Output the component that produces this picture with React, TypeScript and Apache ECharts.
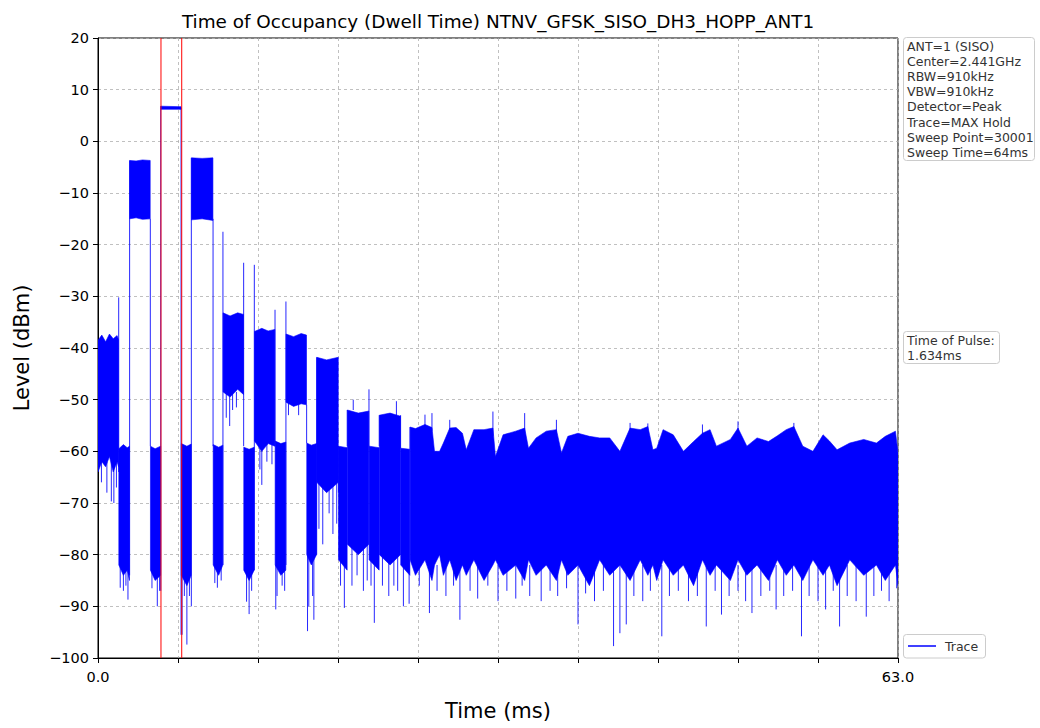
import React, { useEffect, useRef } from 'react';
import * as echarts from 'echarts';

const chartTitle = 'Time of Occupancy (Dwell Time) NTNV_GFSK_SISO_DH3_HOPP_ANT1';
const xAxisName = 'Time (ms)';
const yAxisName = 'Level (dBm)';
const xTickLabels = ['0.0', '63.0'];
const infoLines = ['ANT=1 (SISO)', 'Center=2.441GHz', 'RBW=910kHz', 'VBW=910kHz', 'Detector=Peak', 'Trace=MAX Hold', 'Sweep Point=30001', 'Sweep Time=64ms'];
const pulseLines = ['Time of Pulse:', '1.634ms'];
const legendName = 'Trace';
const markerTimes = [4.96, 6.594];

// Trace envelope: time (ms), upper level, lower level (dBm)
const envT = [
  0, 0.3, 0.6, 0.9, 1.2, 1.5, 1.62,
  1.64, 2.0, 2.3, 2.48,
  2.5, 3.0, 3.5, 4.11,
  4.13, 4.5, 4.93,
  4.95, 6.54,
  6.56, 7.0, 7.34,
  7.36, 8.2, 9.05,
  9.07, 9.5, 9.83,
  9.85, 10.4, 11.0, 11.46,
  11.48, 11.9, 12.3,
  12.32, 12.9, 13.4, 13.93,
  13.95, 14.4, 14.79,
  14.81, 15.4, 16.0, 16.42,
  16.44, 16.8, 17.21,
  17.23, 18.0, 18.92,
  18.94, 19.62,
  19.64, 20.5, 21.33,
  21.35, 22.14,
  22.16, 23.0, 23.82,
  23.84, 24.56,
  24.58, 25.0, 25.75, 26.3, 26.5, 26.9, 27.2, 27.7, 28.2, 28.7, 29.0, 29.6, 30.4, 31.1, 31.3, 31.9,
  32.9, 33.6, 33.9, 34.5, 35.3, 36.1, 36.5, 37.0, 37.8, 38.7, 39.5, 40.3, 41.1, 41.9, 42.7, 43.3,
  43.7, 44.0, 44.5, 45.3, 46.1, 46.9, 47.6, 48.2, 48.7, 49.8, 50.4, 51.1, 51.9, 52.8, 53.5, 54.2,
  54.8, 55.5, 56.3, 57.1, 57.6, 58.2, 59.2, 60.3, 61.3, 62.0, 62.8, 63.0,
];
const envHi = [
  -38.5, -37.5, -38.8, -37.3, -38.2, -37.6, -38.4,
  -59.5, -58.7, -59.3, -59,
  -3.7, -3.8, -3.6, -3.7,
  -59, -59.5, -59,
  6.8, 6.7,
  -58.5, -59, -58.6,
  -3.2, -3.3, -3.2,
  -58.7, -59.2, -58.8,
  -33.2, -33.8, -33.2, -33.5,
  -59.2, -59.6, -59.2,
  -36.8, -36.2, -36.7, -36.4,
  -58, -58.5, -58.2,
  -37.3, -37.8, -37.2, -37.5,
  -58.4, -58.8, -58.5,
  -41.8, -42.3, -41.8,
  -59, -59.3,
  -52, -52.6, -52.2,
  -59, -59.3,
  -53, -52.6, -53.2,
  -59.4, -59.6,
  -55.3, -55.6, -54.8, -55.4, -60, -60, -58.4, -55.5, -55.4, -56.5, -59.7, -55.8, -55.8, -55.5, -61, -56.8,
  -56.1, -55.5, -59.4, -57.4, -56.1, -55.8, -60.3, -57.1, -56.5, -57.1, -57.4, -57.4, -60, -55.5, -55.8, -55.2,
  -59.7, -59.4, -55.8, -56.8, -60, -58.1, -56.5, -55.8, -59, -57.7, -55.5, -59, -57.4, -58.1, -57, -55.8,
  -55.2, -59, -60, -56.8, -58, -59.7, -58.4, -57.7, -58.4, -57.1, -56.1, -60.3,
];
const envLo = [
  -64, -62, -63, -61, -64, -62, -63,
  -82, -84, -83, -85,
  -15, -14.8, -15.1, -15,
  -83, -85, -84,
  6.2, 6.2,
  -84, -86, -84,
  -15.2, -15, -15.3,
  -82, -84, -82,
  -48.5, -49.5, -48, -49,
  -83, -85, -83,
  -58, -60, -58.5, -59,
  -82, -84, -83,
  -50.5, -51.3, -50.8, -51,
  -80, -82, -80,
  -66, -68, -66,
  -81, -83,
  -78, -80, -78,
  -81, -83,
  -80, -82, -80,
  -82, -84,
  -81, -84, -81, -85, -82, -80, -84, -81, -85, -82, -84, -81, -85, -82, -81, -84,
  -82, -85, -81, -84, -82, -85, -81, -84, -82, -86, -81, -84, -82, -85, -81, -84,
  -82, -85, -81, -84, -82, -86, -81, -84, -82, -85, -81, -84, -82, -85, -81, -84,
  -82, -85, -81, -84, -82, -86, -81, -84, -82, -85, -82, -86,
];

// Thin vertical strokes of the trace (spikes and jumps): time, from level, to level
const strokeT = [
  1.63, 2.49, 4.12, 4.94, 6.54, 7.35, 9.06, 9.84, 11.47, 12.31, 13.94, 14.8, 16.43, 17.22, 18.93, 19.63, 21.34, 22.15, 23.83, 24.57,
  0.27, 0.7, 1.05, 1.25, 1.45, 1.75, 2.0, 2.2, 2.36, 4.25, 4.67, 4.85, 6.62, 6.8, 7.0, 7.2,
  9.2, 9.4, 9.7, 10.1, 10.37, 10.6, 10.9, 11.7, 11.9, 12.1, 12.75, 12.9, 13.3, 13.7,
  14.0, 14.1, 14.5, 14.7, 15.0, 15.8, 16.5, 16.6, 16.9, 17.0, 17.4, 17.7, 18.2, 18.5, 18.8,
  19.1, 19.4, 20.0, 20.1, 20.4, 20.9, 21.2, 21.5, 21.76, 22.4, 22.9, 23.3, 23.5, 23.6, 24.05, 24.5,
  25.3, 26.1, 26.7, 27.4, 28.0, 28.5, 29.3, 29.9, 30.7, 31.5, 32.2, 32.9, 33.4, 34.0, 34.9, 35.6,
  36.2, 36.9, 37.8, 38.4, 39.1, 39.8, 40.6, 41.1, 41.6, 42.2, 42.9, 43.5, 44.4, 45.0, 45.7, 46.5,
  47.2, 47.9, 48.6, 49.1, 49.7, 50.4, 51.0, 51.5, 52.2, 52.9, 53.4, 54.0, 54.7, 55.4, 56.0, 56.7,
  57.3, 57.9, 58.4, 59.0, 59.7, 60.5, 61.1, 61.7, 62.3, 62.9,
  25.75, 26.3, 27.7, 31.1, 33.6, 36.1, 41.9, 43.3, 47.6, 50.4, 54.8,
];
const strokeFrom = [
  -64, -84, -15, -87, 6.5, -90, -15, -82, -59, -83, -59, -82, -51, -80, -68, -59, -59, -59, -53, -59.6,
  -62, -62, -62, -62, -62, -82, -82, -82, -82, -83, -83, -83, -84, -84, -84, -84,
  -82, -82, -82, -48.5, -48.5, -48.5, -48.5, -83, -83, -83, -58, -58, -58, -58,
  -82, -82, -82, -82, -50.5, -50.5, -80, -80, -80, -80, -66, -66, -66, -66, -66,
  -80, -80, -78, -52, -78, -78, -78, -80, -80, -80, -80, -80, -53, -80, -81, -81,
  -81, -82, -82, -82, -82, -82, -82, -82, -82, -82, -82, -82, -82, -82, -82, -82,
  -82, -82, -82, -82, -82, -82, -82, -82, -82, -82, -82, -82, -82, -82, -82, -82,
  -82, -82, -82, -82, -82, -82, -82, -82, -82, -82, -82, -82, -82, -82, -82, -82,
  -82, -82, -82, -82, -82, -82, -82, -82, -82, -82,
  -56, -56, -57, -57, -57, -57, -57, -57, -57, -57, -57,
];
const strokeTo = [
  -30.2, -3.7, -59, 6.8, -95.5, -3.2, -59, -17.5, -23.5, -23.9, -32.6, -31, -58.4, -41.8, -59, -52, -48, -53, -59.4, -55.3,
  -66, -68, -69.7, -70, -67, -86.4, -87, -86, -88.7, -86.5, -90, -87, -95.5, -88, -97.4, -88,
  -85.5, -86.4, -85, -53.5, -55.1, -52, -51.5, -89.1, -91.5, -87, -63.5, -66.5, -62, -62.5,
  -90.6, -88, -86, -87, -53, -53, -94.8, -90, -88, -92.6, -75, -78, -72, -76, -74,
  -86, -90.3, -86, -50, -84, -87, -85, -86, -93.2, -86, -88, -86, -50.3, -87, -90, -89.5,
  -86, -91.3, -87, -88, -86, -92.6, -87, -88.5, -86, -89, -87, -88.5, -86, -88, -89, -87,
  -88, -86.5, -93.5, -87.5, -89, -87, -97.7, -95.2, -93.5, -88, -89, -87, -95.8, -88, -87, -89,
  -88, -93.9, -87, -91.6, -88, -87, -89, -91.3, -88, -87, -90.6, -88, -87, -95.8, -88, -89,
  -90.6, -87, -93.9, -88, -89, -92, -88, -87, -89, -86.5,
  -52.9, -52.6, -53.9, -52.3, -52.6, -53.9, -54.5, -54.6, -54.8, -54.2, -54.5,
];

const FONT = '"DejaVu Sans", sans-serif';
const BLUE = '#0000ff';

export default function App() {
  const ref = useRef<HTMLDivElement>(null);
  useEffect(() => {
    if (!ref.current) return;
    const chart = echarts.init(ref.current, undefined, { renderer: 'svg' });
    const envData = envT.map((t, i) => [t, envHi[i], envLo[i]]);
    const strokeData = strokeT.map((t, i) => [t, strokeFrom[i], strokeTo[i]]);
    const markerData = markerTimes.map((t) => [t, 20, -100]);
    const isBreak = (k: number) => envT[k + 1] - envT[k] < 0.05;
    chart.setOption({
      animation: false,
      backgroundColor: '#ffffff',
      grid: { left: 98, top: 38, width: 800, height: 620, show: true, borderColor: '#000', borderWidth: 1, backgroundColor: 'transparent' },
      xAxis: {
        type: 'value', min: 0, max: 63, interval: 6.3,
        name: xAxisName, nameLocation: 'middle', nameGap: 42,
        nameTextStyle: { fontFamily: FONT, fontSize: 21, color: '#000' },
        axisLine: { show: true, onZero: false, lineStyle: { color: '#000', width: 1 } },
        axisTick: { show: true, length: 5, inside: false, lineStyle: { color: '#000', width: 1 } },
        axisLabel: {
          fontFamily: FONT, fontSize: 14.5, color: '#000', margin: 11,
          showMinLabel: true, showMaxLabel: true, hideOverlap: false,
          formatter: (v: number) => (Math.abs(v) < 1e-6 ? xTickLabels[0] : Math.abs(v - 63) < 1e-6 ? xTickLabels[1] : ''),
        },
        splitLine: { show: true, lineStyle: { color: '#b0b0b0', type: [3, 3], width: 0.8 } },
      },
      yAxis: {
        type: 'value', min: -100, max: 20, interval: 10,
        name: yAxisName, nameLocation: 'middle', nameGap: 66, nameRotate: 90,
        nameTextStyle: { fontFamily: FONT, fontSize: 21, color: '#000' },
        axisLine: { show: true, onZero: false, lineStyle: { color: '#000', width: 1 } },
        axisTick: { show: true, length: 5, inside: false, lineStyle: { color: '#000', width: 1 } },
        axisLabel: {
          fontFamily: FONT, fontSize: 14.5, color: '#000', margin: 9,
          formatter: (v: number) => String(v).replace('-', '\u2212'),
        },
        splitLine: { show: true, lineStyle: { color: '#b0b0b0', type: [3, 3], width: 0.8 } },
      },
      series: [
        {
          name: legendName,
          type: 'custom',
          clip: true,
          progressive: 0,
          itemStyle: { color: BLUE },
          encode: { x: 0, y: [1, 2] },
          data: envData,
          renderItem: (params: any, api: any) => {
            const i = params.dataIndex;
            if (i > 0 && !isBreak(i - 1)) return null;
            let j = i;
            while (j + 1 < envT.length && !isBreak(j)) j++;
            if (j === i) return null;
            const top: number[][] = [];
            const bot: number[][] = [];
            for (let k = i; k <= j; k++) {
              top.push(api.coord([envT[k], envHi[k]]));
              bot.unshift(api.coord([envT[k], envLo[k]]));
            }
            return {
              type: 'polygon',
              shape: { points: top.concat(bot) },
              style: { fill: BLUE, stroke: BLUE, lineWidth: 0.6 },
            };
          },
        },
        {
          name: legendName,
          type: 'custom',
          clip: true,
          progressive: 0,
          encode: { x: 0, y: [1, 2] },
          data: strokeData,
          renderItem: (params: any, api: any) => {
            const p0 = api.coord([api.value(0), api.value(1)]);
            const p1 = api.coord([api.value(0), api.value(2)]);
            return {
              type: 'line',
              shape: { x1: p0[0], y1: p0[1], x2: p1[0], y2: p1[1] },
              style: { stroke: BLUE, lineWidth: 1, opacity: 0.85 },
            };
          },
        },
        {
          name: 'markers',
          type: 'custom',
          clip: true,
          z: 5,
          encode: { x: 0, y: [1, 2] },
          data: markerData,
          renderItem: (params: any, api: any) => {
            const p0 = api.coord([api.value(0), api.value(1)]);
            const p1 = api.coord([api.value(0), api.value(2)]);
            return {
              type: 'line',
              shape: { x1: p0[0], y1: p0[1], x2: p1[0], y2: p1[1] },
              style: { stroke: '#ff0000', lineWidth: 1 },
            };
          },
        },
      ],
      graphic: [
        { type: 'text', x: 498, y: 21, style: { text: chartTitle, font: `18.4px ${FONT}`, fill: '#000', align: 'center', verticalAlign: 'middle' } },
        { type: 'rect', shape: { x: 903.5, y: 37.5, width: 131, height: 123, r: 3 }, style: { fill: '#fff', stroke: '#cccccc', lineWidth: 1 } },
        { type: 'text', x: 907, y: 39, style: { text: infoLines.join('\n'), font: `12.5px ${FONT}`, lineHeight: 15.1, fill: '#333', align: 'left', verticalAlign: 'top' } },
        { type: 'rect', shape: { x: 903.5, y: 331.5, width: 96, height: 32, r: 3 }, style: { fill: '#fff', stroke: '#cccccc', lineWidth: 1 } },
        { type: 'text', x: 907, y: 333, style: { text: pulseLines.join('\n'), font: `12.5px ${FONT}`, lineHeight: 14.7, fill: '#333', align: 'left', verticalAlign: 'top' } },
        { type: 'rect', shape: { x: 903.5, y: 634.5, width: 82, height: 23.5, r: 3 }, style: { fill: '#fff', stroke: '#cccccc', lineWidth: 1 } },
        { type: 'line', shape: { x1: 908, y1: 646, x2: 936, y2: 646 }, style: { stroke: BLUE, lineWidth: 1.5 } },
        { type: 'text', x: 945, y: 646, style: { text: legendName, font: `12.5px ${FONT}`, fill: '#333', align: 'left', verticalAlign: 'middle' } },
      ],
    });
    return () => chart.dispose();
  }, []);
  return <div ref={ref} style={{ width: 1040, height: 728, position: 'absolute', left: 0, top: 0 }} />;
}
